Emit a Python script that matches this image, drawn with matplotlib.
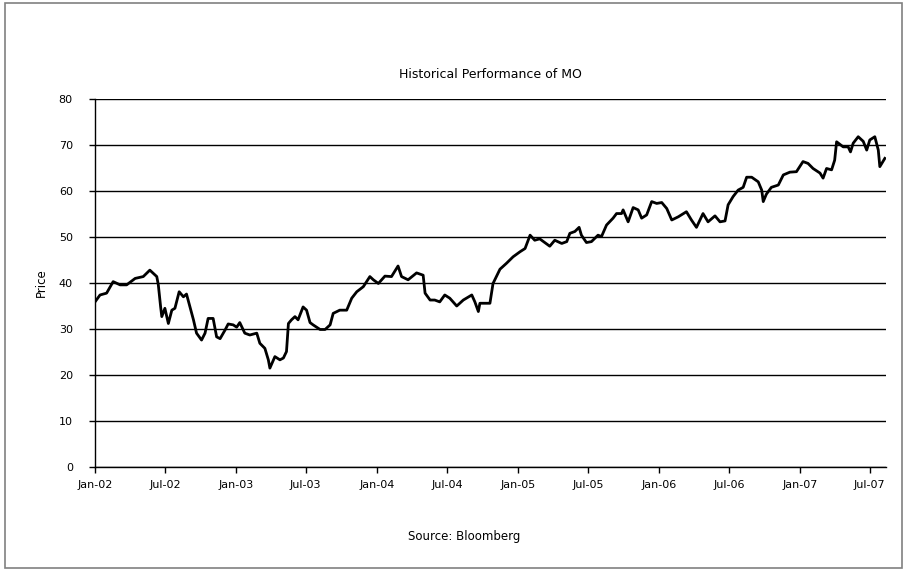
import numpy as np
import pandas as pd
import matplotlib
matplotlib.use("Agg")
import matplotlib.pyplot as plt
import matplotlib.dates as mdates
from matplotlib.patches import Rectangle

# MO closing prices (approximate)
dates = [
    "2002-01-01", "2002-01-14", "2002-01-31", "2002-02-17", "2002-03-07", "2002-03-24",
    "2002-04-15", "2002-05-06", "2002-05-23", "2002-06-10", "2002-06-14", "2002-06-20",
    "2002-06-23", "2002-07-01", "2002-07-10", "2002-07-19", "2002-07-27", "2002-08-07",
    "2002-08-18", "2002-08-26", "2002-09-04", "2002-09-13", "2002-09-21", "2002-10-04",
    "2002-10-13", "2002-10-21", "2002-11-03", "2002-11-12", "2002-11-21", "2002-12-04",
    "2002-12-12", "2002-12-25", "2003-01-03", "2003-01-11", "2003-01-24", "2003-02-06",
    "2003-02-24", "2003-03-04", "2003-03-17", "2003-03-26", "2003-03-30", "2003-04-12",
    "2003-04-25", "2003-05-04", "2003-05-12", "2003-05-17", "2003-05-25", "2003-06-03",
    "2003-06-11", "2003-06-24", "2003-07-03", "2003-07-12", "2003-07-20", "2003-08-07",
    "2003-08-20", "2003-09-02", "2003-09-10", "2003-09-27", "2003-10-15", "2003-10-28",
    "2003-11-10", "2003-11-27", "2003-12-14", "2003-12-23", "2004-01-05", "2004-01-22",
    "2004-02-08", "2004-02-25", "2004-03-05", "2004-03-22", "2004-04-13", "2004-04-30",
    "2004-05-05", "2004-05-18", "2004-05-30", "2004-06-12", "2004-06-25", "2004-07-08",
    "2004-07-26", "2004-08-12", "2004-09-03", "2004-09-11", "2004-09-20", "2004-09-24",
    "2004-10-20", "2004-10-28", "2004-11-15", "2004-12-02", "2004-12-19", "2005-01-06",
    "2005-01-19", "2005-02-01", "2005-02-13", "2005-02-26", "2005-03-24", "2005-04-06",
    "2005-04-24", "2005-05-07", "2005-05-15", "2005-05-28", "2005-06-08", "2005-06-14",
    "2005-06-27", "2005-07-10", "2005-07-27", "2005-08-05", "2005-08-18", "2005-09-04",
    "2005-09-13", "2005-09-26", "2005-09-30", "2005-10-13", "2005-10-26", "2005-11-08",
    "2005-11-17", "2005-11-30", "2005-12-13", "2005-12-26", "2006-01-08", "2006-01-21",
    "2006-02-03", "2006-02-20", "2006-03-13", "2006-03-26", "2006-04-08", "2006-04-25",
    "2006-05-08", "2006-05-26", "2006-06-08", "2006-06-21", "2006-06-29", "2006-07-12",
    "2006-07-25", "2006-08-07", "2006-08-16", "2006-08-29", "2006-09-15", "2006-09-24",
    "2006-09-28", "2006-10-06", "2006-10-19", "2006-11-06", "2006-11-19", "2006-12-06",
    "2006-12-23", "2007-01-09", "2007-01-22", "2007-02-04", "2007-02-22", "2007-03-02",
    "2007-03-11", "2007-03-24", "2007-04-01", "2007-04-06", "2007-04-23", "2007-05-06",
    "2007-05-12", "2007-05-19", "2007-06-01", "2007-06-14", "2007-06-23", "2007-07-01",
    "2007-07-14", "2007-07-23", "2007-07-27", "2007-08-09",
]
prices = [
    35.9, 37.4, 37.8, 40.3, 39.6, 39.6,
    41.0, 41.4, 42.8, 41.4, 39.6, 34.8,
    32.7, 34.5, 31.2, 34.1, 34.5, 38.1,
    37.0, 37.6, 34.8, 32.0, 29.1, 27.6,
    29.1, 32.3, 32.3, 28.3, 27.9, 29.8,
    31.1, 30.9, 30.4, 31.4, 29.1, 28.7,
    29.1, 26.9, 25.8, 23.3, 21.5, 24.0,
    23.3, 23.7, 25.1, 31.2, 32.0, 32.7,
    32.0, 34.8, 34.1, 31.4, 30.9, 29.9,
    29.9, 30.9, 33.4, 34.1, 34.1, 36.7,
    38.1, 39.2, 41.4, 40.7, 39.9, 41.5,
    41.4, 43.7, 41.4, 40.7, 42.2, 41.7,
    37.8, 36.3, 36.3, 35.9, 37.4, 36.7,
    35.0, 36.3, 37.4, 35.9, 33.8, 35.6,
    35.6, 39.9, 43.0, 44.3, 45.7, 46.8,
    47.5, 50.4, 49.3, 49.6, 48.0, 49.3,
    48.6, 49.0, 50.8, 51.2, 52.1, 50.4,
    48.8, 49.0, 50.4, 50.1, 52.6, 54.1,
    55.1, 55.1, 55.9, 53.3, 56.4, 55.9,
    54.1, 54.8, 57.7, 57.3, 57.5, 56.2,
    53.7, 54.4, 55.5, 53.7, 52.1, 55.1,
    53.3, 54.6, 53.3, 53.5, 57.0, 58.8,
    60.2, 60.8, 63.0, 63.0, 62.0, 60.2,
    57.7, 59.3, 60.8, 61.3, 63.5, 64.1,
    64.2, 66.4, 66.0, 64.9, 63.9, 62.8,
    64.9, 64.6, 66.7, 70.7, 69.6, 69.6,
    68.5, 70.4, 71.8, 70.8, 68.9, 71.1,
    71.8, 68.9, 65.3, 67.1,
]

yticks = [0, 10, 20, 30, 40, 50, 60, 70, 80]

df = pd.DataFrame({"date": pd.to_datetime(dates), "price": prices})

fig = plt.figure(figsize=(9.04, 5.71), dpi=100)
fig.patches.append(Rectangle((0.005, 0.005), 0.993, 0.99, transform=fig.transFigure,
                             fill=False, edgecolor="#808080", linewidth=1.2))

ax = fig.add_axes([0.1051, 0.1821, 0.875, 0.6445])
ax.plot(df["date"], df["price"], color="black", linewidth=2.0)

ax.set_ylim(0, 80)
ax.set_yticks(yticks)
ax.set_xlim(pd.Timestamp("2002-01-01"), pd.Timestamp("2007-08-12"))
ax.xaxis.set_major_locator(mdates.MonthLocator(bymonth=[1, 7]))
ax.xaxis.set_major_formatter(mdates.DateFormatter("%b-%y"))

ax.grid(axis="y", color="black", linewidth=1.0)
ax.set_axisbelow(True)
for s in ["top", "right"]:
    ax.spines[s].set_visible(False)
ax.spines["left"].set_linewidth(1.0)
ax.spines["bottom"].set_linewidth(1.0)
ax.tick_params(direction="out", length=4, width=1, labelsize=8, pad=5)
ax.tick_params(axis="y", pad=12)

ax.set_ylabel("Price", fontsize=8.5, labelpad=8)
ax.set_title("Historical Performance of MO", fontsize=9, pad=15)
fig.text(0.514, 0.06, "Source: Bloomberg", ha="center", va="center", fontsize=8.5)

fig.savefig("out.png", dpi=100)
